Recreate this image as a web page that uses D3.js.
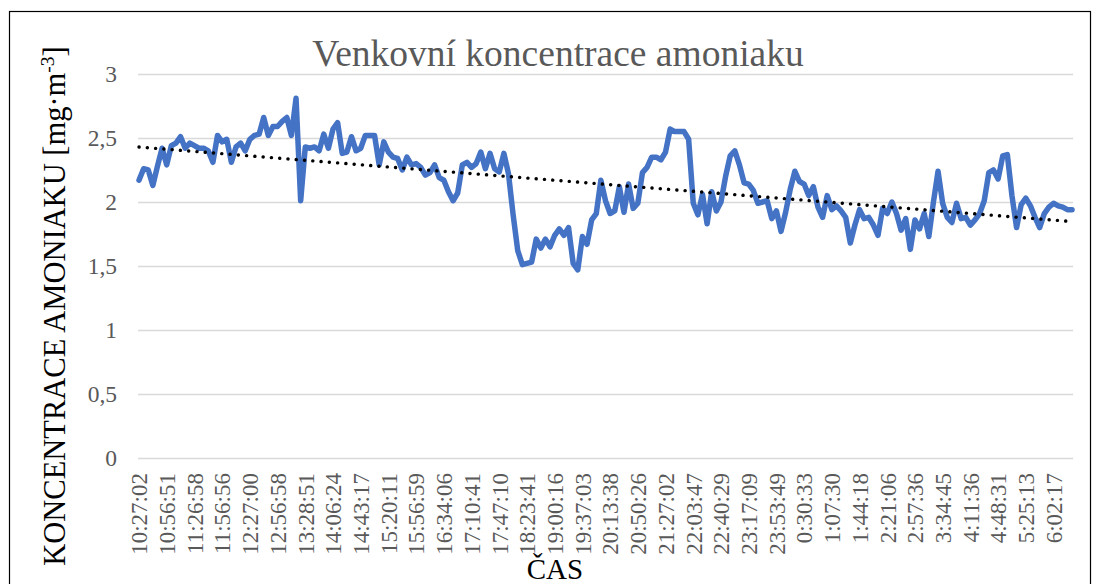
<!DOCTYPE html>
<html>
<head>
<meta charset="utf-8">
<script src="https://cdn.jsdelivr.net/npm/d3@7"></script>
<style>
  body { margin: 0; background: #fff; }
  svg { display: block; font-family: "Liberation Serif", "Times New Roman", serif; }
</style>
</head>
<body>
<svg></svg>
<script>
let titleText = "Venkovní koncentrace amoniaku";
let xTitle = "ČAS";

// one label shown for every 6th measurement
let labelStep = 6;
let tickLabels = [
  "10:27:02", "10:56:51", "11:26:58", "11:56:56", "12:27:00", "12:56:58",
  "13:28:51", "14:06:24", "14:43:17", "15:20:11", "15:56:59", "16:34:06",
  "17:10:41", "17:47:10", "18:23:41", "19:00:16", "19:37:03", "20:13:38",
  "20:50:26", "21:27:02", "22:03:47", "22:40:29", "23:17:09", "23:53:49",
  "0:30:33", "1:07:30", "1:44:18", "2:21:06", "2:57:36", "3:34:45",
  "4:11:36", "4:48:31", "5:25:13", "6:02:17"
];

let yTicks = [0, 0.5, 1, 1.5, 2, 2.5, 3];

let values = [
  2.17, 2.26, 2.25, 2.13, 2.28, 2.42, 2.29, 2.44, 2.46, 2.51,
  2.42, 2.46, 2.44, 2.42, 2.42, 2.40, 2.31, 2.52, 2.47, 2.49,
  2.31, 2.43, 2.46, 2.40, 2.49, 2.52, 2.53, 2.66, 2.52, 2.59,
  2.59, 2.63, 2.66, 2.52, 2.81, 2.01, 2.43, 2.42, 2.43, 2.40,
  2.53, 2.42, 2.57, 2.62, 2.38, 2.39, 2.51, 2.40, 2.42, 2.52,
  2.52, 2.52, 2.29, 2.47, 2.39, 2.35, 2.34, 2.25, 2.35, 2.29,
  2.30, 2.27, 2.21, 2.23, 2.29, 2.19, 2.17, 2.08, 2.01, 2.07,
  2.29, 2.31, 2.27, 2.30, 2.39, 2.26, 2.38, 2.26, 2.235, 2.38,
  2.22, 1.90, 1.62, 1.51, 1.52, 1.53, 1.71, 1.64, 1.71, 1.65,
  1.74, 1.79, 1.74, 1.80, 1.52, 1.47, 1.73, 1.67, 1.86, 1.91,
  2.17, 2.01, 1.91, 1.93, 2.12, 1.92, 2.14, 1.95, 1.99, 2.23,
  2.27, 2.35, 2.35, 2.33, 2.39, 2.57, 2.55, 2.55, 2.55, 2.49,
  1.99, 1.90, 2.06, 1.83, 2.08, 1.93, 2.00, 2.20, 2.36, 2.40,
  2.29, 2.15, 2.14, 2.09, 1.99, 2.00, 2.01, 1.87, 1.93, 1.77,
  1.92, 2.10, 2.24, 2.16, 2.14, 2.05, 2.12, 1.96, 1.88, 2.05,
  1.94, 1.97, 1.93, 1.88, 1.68, 1.82, 1.94, 1.87, 1.88, 1.82,
  1.74, 1.95, 1.91, 2.00, 1.91, 1.78, 1.87, 1.63, 1.86, 1.79,
  1.91, 1.73, 2.00, 2.24, 1.99, 1.88, 1.84, 1.99, 1.87, 1.88,
  1.82, 1.86, 1.91, 2.01, 2.23, 2.25, 2.18, 2.36, 2.37, 2.05,
  1.80, 1.98, 2.03, 1.97, 1.88, 1.80, 1.91, 1.96, 1.99, 1.97,
  1.96, 1.94, 1.94
];

let width = 1095, height = 584;
let plotLeft = 139, plotRight = 1072, plotTop = 74, plotBottom = 458;
let serif = "Liberation Serif, Times New Roman, serif";

let svg = d3.select("svg")
  .attr("width", width)
  .attr("height", height);

let xScale = d3.scaleLinear()
  .domain([0, values.length - 1])
  .range([plotLeft, plotRight]);

let yScale = d3.scaleLinear()
  .domain([0, 3])
  .range([plotBottom, plotTop]);

let drawFrame = () => {
  svg.append("rect")
    .attr("x", 9.5)
    .attr("y", 11.5)
    .attr("width", 1081)
    .attr("height", 620)
    .attr("fill", "none")
    .attr("stroke", "#000")
    .attr("stroke-width", 1.2);
};

let drawTitles = () => {
  svg.append("text")
    .attr("x", 558)
    .attr("y", 66)
    .attr("text-anchor", "middle")
    .attr("font-family", serif)
    .attr("font-size", 37.5)
    .attr("fill", "#595959")
    .text(titleText);

  svg.append("text")
    .attr("x", 555)
    .attr("y", 579)
    .attr("text-anchor", "middle")
    .attr("font-family", serif)
    .attr("font-size", 29)
    .attr("fill", "#000")
    .text(xTitle);

  let yt = svg.append("text")
    .attr("transform", "translate(65, 306) rotate(-90)")
    .attr("text-anchor", "middle")
    .attr("font-family", serif)
    .attr("font-size", 30.5)
    .attr("fill", "#000");
  yt.append("tspan").text("KONCENTRACE AMONIAKU [mg·m");
  yt.append("tspan").attr("font-size", 19.5).attr("dy", -11).text("-3");
  yt.append("tspan").attr("dy", 11).text("]");
};

let drawAxes = () => {
  let yAxis = d3.axisLeft(yScale)
    .tickValues(yTicks)
    .tickSize(0)
    .tickPadding(21)
    .tickFormat(d => String(d).replace(".", ","));

  let gy = svg.append("g")
    .attr("transform", `translate(${plotLeft - 1}, 0)`)
    .call(yAxis);
  gy.select(".domain").remove();
  gy.selectAll(".tick line")
    .attr("stroke", "#d9d9d9")
    .attr("stroke-width", 1.5)
    .attr("x1", 0)
    .attr("x2", plotRight - plotLeft + 2);
  gy.selectAll(".tick text")
    .attr("font-family", serif)
    .attr("font-size", 23.5)
    .attr("fill", "#595959");

  let tickIdx = tickLabels.map((t, j) => j * labelStep);
  let xAxis = d3.axisBottom(xScale)
    .tickValues(tickIdx)
    .tickSize(0)
    .tickFormat((d, j) => tickLabels[j]);

  let gx = svg.append("g")
    .attr("transform", `translate(0, ${plotBottom})`)
    .call(xAxis);
  gx.select(".domain").remove();
  gx.selectAll(".tick text")
    .attr("font-family", serif)
    .attr("font-size", 23)
    .attr("fill", "#595959")
    .attr("text-anchor", "end")
    .attr("transform", "rotate(-90)")
    .attr("x", -15)
    .attr("y", 0)
    .attr("dy", "0.34em");
};

let drawLine = () => {
  let line = d3.line()
    .x((d, i) => xScale(i))
    .y(d => yScale(d));

  svg.append("path")
    .datum(values)
    .attr("d", line)
    .attr("fill", "none")
    .attr("stroke", "#4472c4")
    .attr("stroke-width", 5.5)
    .attr("stroke-linejoin", "round")
    .attr("stroke-linecap", "round");
};

let drawTrend = () => {
  let n = values.length;
  let mx = d3.mean(values, (d, i) => i);
  let my = d3.mean(values);
  let sxy = d3.sum(values, (d, i) => (i - mx) * (d - my));
  let sxx = d3.sum(values, (d, i) => (i - mx) * (i - mx));
  let slope = sxy / sxx;
  let icpt = my - slope * mx;
  let ends = [0, n - 1];

  svg.append("path")
    .datum(ends)
    .attr("d", d3.line().x(d => xScale(d)).y(d => yScale(icpt + slope * d)))
    .attr("fill", "none")
    .attr("stroke", "#000")
    .attr("stroke-width", 3.4)
    .attr("stroke-linecap", "round")
    .attr("stroke-dasharray", "0.1 8.2");
};

drawFrame();
drawAxes();
drawLine();
drawTrend();
drawTitles();
</script>
</body>
</html>
